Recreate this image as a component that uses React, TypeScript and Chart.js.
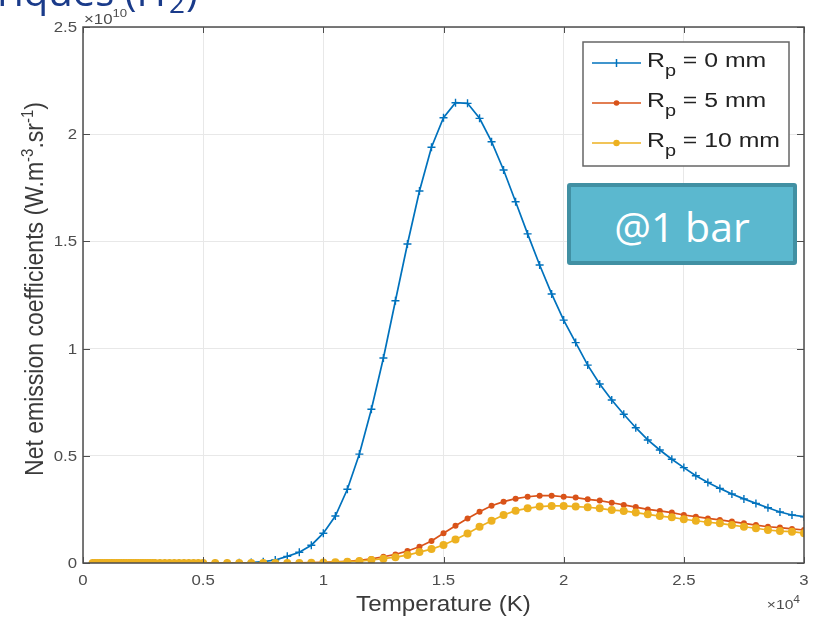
import React, { useEffect, useRef } from "react";
import { Chart, registerables } from "chart.js";

Chart.register(...registerables);

// Temperatures (K) where the curves were sampled
const lowTemperatures = [
  400, 500, 600, 700, 800, 900, 1000, 1100, 1200, 1300, 1400, 1500, 1600, 1700,
  1800, 1900, 2000, 2100, 2200, 2300, 2400, 2500, 2600, 2700, 2800, 2900, 3000,
  3200, 3400, 3600, 3800, 4000, 4200, 4400, 4600, 4800,
];
const mainTemperatures = [
  5000, 5500, 6000, 6500, 7000, 7500, 8000, 8500, 9000, 9500,
  10000, 10500, 11000, 11500, 12000, 12500, 13000, 13500, 14000, 14500,
  15000, 15500, 16000, 16500, 17000, 17500, 18000, 18500, 19000, 19500,
  20000, 20500, 21000, 21500, 22000, 22500, 23000, 23500, 24000, 24500,
  25000, 25500, 26000, 26500, 27000, 27500, 28000, 28500, 29000, 29500,
  30000,
];

// Emission (x 1e10 W.m^-3.sr^-1) read as zero below 5000 K for every radius
const lowRangeEmission = [
  0, 0, 0, 0, 0, 0, 0, 0, 0, 0, 0, 0, 0, 0, 0, 0, 0, 0, 0, 0, 0, 0, 0, 0, 0, 0, 0,
  0, 0, 0, 0, 0, 0, 0, 0, 0,
];

// Rp = 0 mm
const rp0Main = [
  0, 0, 0, 0.001, 0.002, 0.006, 0.014, 0.031, 0.05, 0.083,
  0.139, 0.219, 0.344, 0.508, 0.717, 0.956, 1.223, 1.488, 1.735, 1.939,
  2.077, 2.147, 2.144, 2.074, 1.965, 1.833, 1.685, 1.535, 1.39, 1.255,
  1.133, 1.028, 0.923, 0.835, 0.76, 0.694, 0.631, 0.574, 0.527, 0.484,
  0.445, 0.407, 0.376, 0.348, 0.322, 0.299, 0.278, 0.258, 0.238, 0.224,
  0.216,
];
// Rp = 5 mm
const rp5Main = [
  0, 0, 0, 0, 0, 0, 0, 0, 0.001, 0.002,
  0.003, 0.005, 0.008, 0.012, 0.019, 0.029, 0.04, 0.056, 0.076, 0.103,
  0.139, 0.174, 0.208, 0.239, 0.267, 0.286, 0.3, 0.309, 0.314, 0.314,
  0.309, 0.305, 0.297, 0.291, 0.281, 0.271, 0.261, 0.25, 0.243, 0.235,
  0.224, 0.216, 0.208, 0.201, 0.193, 0.185, 0.177, 0.169, 0.165, 0.159,
  0.154,
];
// Rp = 10 mm
const rp10Main = [
  0, 0, 0, 0, 0, 0, 0, 0, 0, 0.001,
  0.002, 0.004, 0.006, 0.009, 0.014, 0.02, 0.027, 0.037, 0.051, 0.065,
  0.084, 0.11, 0.138, 0.169, 0.197, 0.224, 0.244, 0.255, 0.263, 0.266,
  0.266, 0.263, 0.26, 0.255, 0.247, 0.243, 0.235, 0.227, 0.219, 0.213,
  0.204, 0.197, 0.19, 0.185, 0.177, 0.169, 0.162, 0.154, 0.149, 0.146,
  0.139,
];

const seriesLabels = ["0 mm", "5 mm", "10 mm"];
const xTickValues = [0, 5000, 10000, 15000, 20000, 25000, 30000];
const xTickLabels = ["0", "0.5", "1", "1.5", "2", "2.5", "3"];
const yTickValues = [0, 0.5, 1, 1.5, 2, 2.5];
const yTickLabels = ["0", "0.5", "1", "1.5", "2", "2.5"];

const BLUE = "#0072BD";
const RED = "#D95319";
const YELLOW = "#EDB120";
const AXIS = "#4d4d4d";
const FONT = '"Liberation Sans", Arial, Helvetica, sans-serif';
const SX = 1.2; // horizontal stretch of the original figure's text

type Seg = { t: string; size: number; dy: number };

function richWidth(ctx: CanvasRenderingContext2D, segs: Seg[]) {
  let w = 0;
  for (const s of segs) {
    ctx.font = `${s.size}px ${FONT}`;
    w += ctx.measureText(s.t).width;
  }
  return w;
}
// draws text at (x,y) with a horizontal stretch sx
function drawRich(
  ctx: CanvasRenderingContext2D,
  segs: Seg[],
  x: number,
  y: number,
  align: "left" | "center" | "right",
  sx: number
) {
  const w = richWidth(ctx, segs);
  ctx.save();
  ctx.translate(x, y);
  ctx.scale(sx, 1);
  let cx = align === "center" ? -w / 2 : align === "right" ? -w : 0;
  ctx.textAlign = "left";
  ctx.textBaseline = "alphabetic";
  for (const s of segs) {
    ctx.font = `${s.size}px ${FONT}`;
    ctx.fillText(s.t, cx, s.dy);
    cx += ctx.measureText(s.t).width;
  }
  ctx.restore();
}

const decorPlugin = {
  id: "decor",
  afterDraw(chart: any) {
    const { ctx, chartArea: a, scales } = chart;
    ctx.save();
    // inward ticks
    ctx.strokeStyle = AXIS;
    ctx.lineWidth = 1;
    ctx.beginPath();
    for (const v of xTickValues) {
      const px = Math.round(scales.x.getPixelForValue(v)) + 0.5;
      ctx.moveTo(px, a.bottom);
      ctx.lineTo(px, a.bottom - 6);
      ctx.moveTo(px, a.top);
      ctx.lineTo(px, a.top + 6);
    }
    for (const v of yTickValues) {
      const py = Math.round(scales.y.getPixelForValue(v)) + 0.5;
      ctx.moveTo(a.left, py);
      ctx.lineTo(a.left + 7, py);
      ctx.moveTo(a.right, py);
      ctx.lineTo(a.right - 7, py);
    }
    ctx.stroke();
    // box
    ctx.lineWidth = 1.5;
    ctx.strokeRect(a.left, a.top, a.right - a.left, a.bottom - a.top);

    // tick labels
    ctx.fillStyle = AXIS;
    xTickValues.forEach((v, i) => {
      drawRich(ctx, [{ t: xTickLabels[i], size: 14, dy: 0 }], scales.x.getPixelForValue(v), a.bottom + 22, "center", SX);
    });
    yTickValues.forEach((v, i) => {
      drawRich(ctx, [{ t: yTickLabels[i], size: 14, dy: 0 }], a.left - 6, scales.y.getPixelForValue(v) + 5, "right", SX);
    });

    // exponent labels
    drawRich(ctx, [
      { t: "\u00d710", size: 14, dy: 0 },
      { t: "10", size: 11, dy: -7 },
    ], a.left + 1, 24, "left", SX);
    drawRich(ctx, [
      { t: "\u00d710", size: 13, dy: 0 },
      { t: "4", size: 10, dy: -6 },
    ], a.right - 4, 609, "right", SX);

    // axis titles
    ctx.fillStyle = "#3a3a3a";
    drawRich(ctx, [{ t: "Temperature (K)", size: 22, dy: 0 }], (a.left + a.right) / 2, 611, "center", 1.1);
    ctx.save();
    ctx.translate(43, (a.top + a.bottom) / 2 - 6);
    ctx.scale(1.12, 1);
    ctx.rotate(-Math.PI / 2);
    drawRich(ctx, [
      { t: "Net emission coefficients (W.m", size: 23, dy: 0 },
      { t: "-3", size: 15, dy: -9 },
      { t: ".sr", size: 23, dy: 0 },
      { t: "-1", size: 15, dy: -9 },
      { t: ")", size: 23, dy: 0 },
    ], 0, 0, "center", 1);
    ctx.restore();

    // legend
    const lx = 583, ly = 42, lw = 206, lh = 124;
    ctx.fillStyle = "#ffffff";
    ctx.fillRect(lx, ly, lw, lh);
    ctx.strokeStyle = "#666666";
    ctx.lineWidth = 1.5;
    ctx.strokeRect(lx, ly, lw, lh);
    const colors = [BLUE, RED, YELLOW];
    const rows = [63, 103, 143];
    rows.forEach((ry, i) => {
      ctx.strokeStyle = colors[i];
      ctx.lineWidth = 1.5;
      ctx.beginPath();
      ctx.moveTo(592, ry);
      ctx.lineTo(641, ry);
      ctx.stroke();
      ctx.fillStyle = colors[i];
      if (i === 0) {
        ctx.beginPath();
        ctx.moveTo(616.5, ry - 4);
        ctx.lineTo(616.5, ry + 4);
        ctx.stroke();
      } else {
        ctx.beginPath();
        ctx.arc(616.5, ry, i === 1 ? 2.8 : 3.2, 0, Math.PI * 2);
        ctx.fill();
      }
      ctx.fillStyle = "#222222";
      drawRich(ctx, [
        { t: "R", size: 20, dy: 0 },
        { t: "p", size: 16, dy: 9 },
        { t: " = " + seriesLabels[i], size: 20, dy: 0 },
      ], 647, ry + 4, "left", 1.24);
    });

    // slide title remnant at the top
    ctx.fillStyle = "#1a3b8a";
    ctx.font = '40px "Open Sans", sans-serif';
    ctx.textAlign = "right";
    ctx.textBaseline = "alphabetic";
    ctx.fillText("numériques (H", 166, 6);
    ctx.textAlign = "left";
    ctx.font = '28px "Open Sans", sans-serif';
    ctx.fillText("2", 169, 13);
    ctx.font = '40px "Open Sans", sans-serif';
    ctx.fillText(")", 186, 6);
    ctx.restore();
  },
};

export default function App() {
  const canvasRef = useRef<HTMLCanvasElement | null>(null);

  useEffect(() => {
    const canvas = canvasRef.current;
    if (!canvas) return;
    const temperatures = [...lowTemperatures, ...mainTemperatures];
    const build = (vals: number[]) => temperatures.map((t, i) => ({ x: t, y: vals[i] }));
    const rp0 = build([...lowRangeEmission, ...rp0Main]);
    const rp5 = build([...lowRangeEmission, ...rp5Main]);
    const rp10 = build([...lowRangeEmission, ...rp10Main]);

    const chart = new Chart(canvas, {
      type: "line",
      data: {
        datasets: [
          {
            label: "Rp = " + seriesLabels[0],
            data: rp0,
            borderColor: BLUE,
            backgroundColor: BLUE,
            borderWidth: 1.7,
            pointStyle: "cross",
            pointRadius: 4,
            pointBorderWidth: 1.4,
            order: 3,
          },
          {
            label: "Rp = " + seriesLabels[1],
            data: rp5,
            borderColor: RED,
            backgroundColor: RED,
            borderWidth: 1.7,
            pointStyle: "circle",
            pointRadius: 3,
            pointBorderWidth: 0,
            order: 2,
          },
          {
            label: "Rp = " + seriesLabels[2],
            data: rp10,
            borderColor: YELLOW,
            backgroundColor: YELLOW,
            borderWidth: 1.7,
            pointStyle: "circle",
            pointRadius: 4,
            pointBorderWidth: 0,
            order: 1,
          },
        ],
      },
      options: {
        responsive: false,
        animation: false,
        layout: { padding: { left: 0, top: 27, right: 10, bottom: 0 } },
        plugins: { legend: { display: false }, tooltip: { enabled: false } },
        elements: { line: { tension: 0 } },
        scales: {
          x: {
            type: "linear",
            min: 0,
            max: 30000,
            afterFit: (s: any) => { s.height = 54; },
            afterBuildTicks: (s: any) => { s.ticks = xTickValues.map((v) => ({ value: v })); },
            border: { display: false },
            grid: { color: "#e8e8e8", lineWidth: 1, drawTicks: false },
            ticks: { display: false },
          },
          y: {
            type: "linear",
            min: 0,
            max: 2.5,
            afterFit: (s: any) => { s.width = 83; },
            afterBuildTicks: (s: any) => { s.ticks = yTickValues.map((v) => ({ value: v })); },
            border: { display: false },
            grid: { color: "#e8e8e8", lineWidth: 1, drawTicks: false },
            ticks: { display: false },
          },
        },
      },
      plugins: [decorPlugin],
    });
    return () => chart.destroy();
  }, []);

  return (
    <div style={{ position: "fixed", left: 0, top: 0, width: 814, height: 617, background: "#fff", overflow: "hidden" }}>
      <canvas ref={canvasRef} width={814} height={617} style={{ display: "block" }} />
      <div
        style={{
          position: "absolute",
          left: 567,
          top: 183,
          width: 222,
          height: 70,
          background: "#5BB8CF",
          border: "4px solid #4190A3",
          borderRadius: 3,
          color: "#ffffff",
          font: '41px "Open Sans", sans-serif',
          display: "flex",
          alignItems: "center",
          justifyContent: "center",
          paddingTop: 4,
          boxSizing: "content-box",
        }}
      >
        @1 bar
      </div>
    </div>
  );
}
